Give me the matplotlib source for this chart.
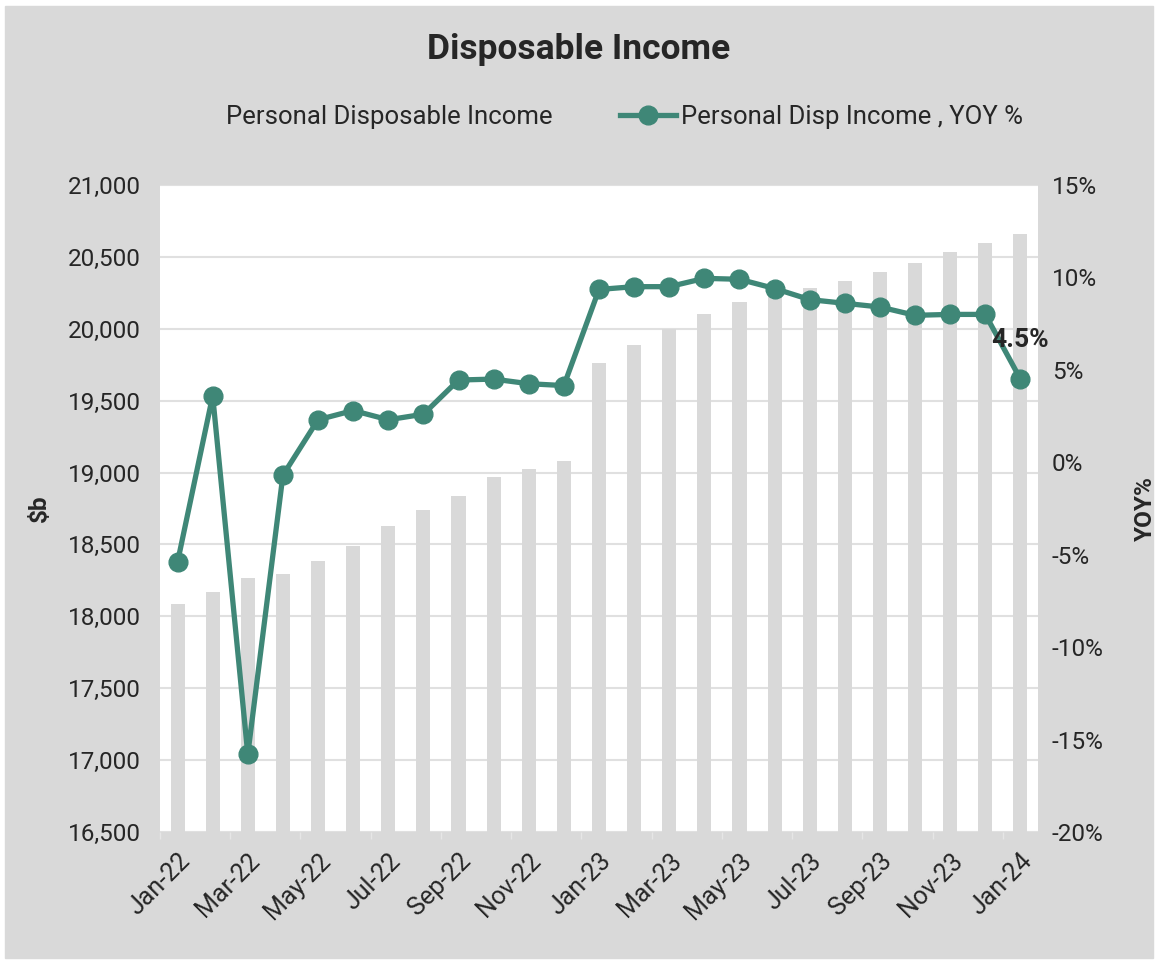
import matplotlib.pyplot as plt
import matplotlib.patches as patches
import numpy as np

plt.rcParams['font.family'] = ['Roboto', 'DejaVu Sans']

months = ['Jan-22', 'Feb-22', 'Mar-22', 'Apr-22', 'May-22', 'Jun-22', 'Jul-22',
          'Aug-22', 'Sep-22', 'Oct-22', 'Nov-22', 'Dec-22', 'Jan-23', 'Feb-23',
          'Mar-23', 'Apr-23', 'May-23', 'Jun-23', 'Jul-23', 'Aug-23', 'Sep-23',
          'Oct-23', 'Nov-23', 'Dec-23', 'Jan-24']
income = [18085, 18171, 18270, 18296, 18385, 18488, 18628, 18739, 18835, 18969,
          19028, 19081, 19761, 19888, 20000, 20102, 20186, 20240, 20285, 20332,
          20397, 20456, 20531, 20596, 20658]
yoy = [-5.4, 3.6, -15.8, -0.7, 2.3, 2.8, 2.3, 2.6, 4.45, 4.5, 4.25, 4.15, 9.35,
       9.5, 9.5, 9.95, 9.9, 9.4, 8.8, 8.6, 8.4, 7.95, 8.0, 8.0, 4.5]

GRAY = '#d9d9d9'
TEAL = '#3f8777'
TXT = '#262626'

fig = plt.figure(figsize=(11.58, 9.64), dpi=100, facecolor='white')
fig.patches.append(patches.Rectangle((5 / 1158, 6 / 964), 1148 / 1158, 952 / 964,
                                     transform=fig.transFigure, color=GRAY, zorder=-10))

ax = fig.add_axes([160 / 1158, 1 - 832 / 964, 878 / 1158, 647 / 964])
ax.set_facecolor('white')
x = np.arange(len(months))
ax.bar(x, np.array(income) - 16500, bottom=16500, width=0.4, color=GRAY,
       label='Personal Disposable Income', zorder=2)
ax.set_ylim(16500, 21000)
ax.set_xlim(-0.5, len(months) - 0.5)
ax.set_yticks(np.arange(16500, 21001, 500))
ax.set_yticklabels([f'{v:,}' for v in range(16500, 21001, 500)])
ax.grid(axis='y', color='#e0e0e0', linewidth=1.5, zorder=1)
ax.set_axisbelow(True)
for s in ax.spines.values():
    s.set_visible(False)
ax.set_xticks(x[::2])
ax.set_xticklabels(months[::2], rotation=45, ha='right', rotation_mode='anchor')
ax.set_xticks(np.arange(-0.5, len(months), 2), minor=True)
ax.tick_params(axis='x', which='major', length=0, pad=12, labelsize=18, labelcolor=TXT)
ax.tick_params(axis='x', which='minor', length=5, color='#e6e6e6', width=1)
ax.tick_params(axis='y', length=0, pad=14, labelsize=17.5, labelcolor=TXT)
ax.set_ylabel('$b', fontsize=17.5, fontweight='bold', color=TXT, labelpad=12)

ax2 = ax.twinx()
ax2.plot(x, yoy, color=TEAL, linewidth=3.8, marker='o', markersize=13.5,
         label='Personal Disp Income , YOY %', zorder=3)
ax2.set_ylim(-20, 15)
ax2.set_yticks(np.arange(-20, 16, 5))
ax2.set_yticklabels([f'{v}%' for v in range(-20, 16, 5)])
ax2.tick_params(axis='y', length=0, pad=10, labelsize=17.5, labelcolor=TXT)
for s in ax2.spines.values():
    s.set_visible(False)
ax2.set_ylabel('YOY%', fontsize=17.5, fontweight='bold', color=TXT, labelpad=22)
ax2.annotate(f'{yoy[-1]}%', (x[-1], yoy[-1]), xytext=(0, 28), textcoords='offset points',
             ha='center', va='center', fontsize=19, fontweight='bold', color=TXT)

fig.text(0.5, 1 - 49 / 964, 'Disposable Income', ha='center', va='center',
         fontsize=25.5, fontweight='bold', color=TXT)
h1, l1 = ax.get_legend_handles_labels()
h2, l2 = ax2.get_legend_handles_labels()
fig.legend(h1 + h2, l1 + l2, loc='center', bbox_to_anchor=(0.513, 1 - 117 / 964),
           ncol=2, frameon=False, fontsize=18.5, labelcolor=TXT, columnspacing=2.6,
           handlelength=2.2, handletextpad=0.2)

plt.savefig('out.png', dpi=100, facecolor=fig.get_facecolor())
